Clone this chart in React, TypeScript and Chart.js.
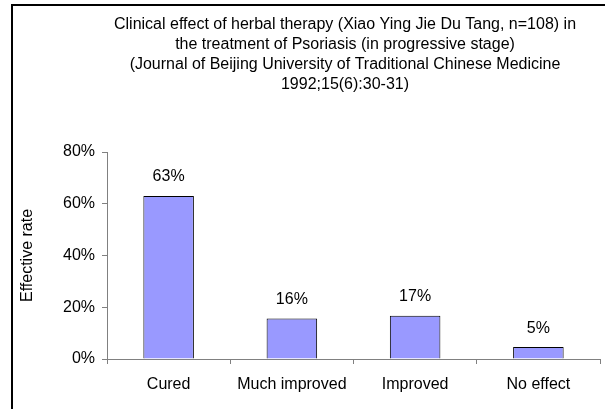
import React, { useEffect, useRef } from "react";
import { Chart, registerables } from "chart.js";

Chart.register(...registerables);

const categories = ["Cured", "Much improved", "Improved", "No effect"];
const effectiveRate = [63, 15.7, 16.7, 4.6];
const yTicks = [0, 20, 40, 60, 80];
const titleLines = [
  "Clinical effect of herbal therapy (Xiao Ying Jie Du Tang, n=108) in",
  "the treatment of Psoriasis (in progressive stage)",
  "(Journal of Beijing University of Traditional Chinese Medicine",
  "1992;15(6):30-31)",
];
const yTitle = "Effective rate";

const FONT = "'Liberation Sans', Arial, sans-serif";

const decorPlugin = {
  id: "decor",
  beforeDraw(chart: any) {
    const ctx = chart.ctx;
    ctx.save();
    ctx.fillStyle = "#ffffff";
    ctx.fillRect(0, 0, chart.width, chart.height);
    ctx.strokeStyle = "#000000";
    ctx.lineWidth = 2;
    ctx.beginPath();
    ctx.moveTo(12, chart.height + 2);
    ctx.lineTo(12, 5);
    ctx.lineTo(chart.width + 2, 5);
    ctx.stroke();
    ctx.fillStyle = "#000000";
    ctx.font = `16px ${FONT}`;
    ctx.textAlign = "center";
    ctx.textBaseline = "alphabetic";
    titleLines.forEach((line, i) => {
      ctx.fillText(line, 345, 29 + i * 20);
    });
    ctx.restore();
  },
  afterDatasetsDraw(chart: any) {
    const ctx = chart.ctx;
    const meta = chart.getDatasetMeta(0);
    ctx.save();
    ctx.fillStyle = "#000000";
    ctx.font = `16px ${FONT}`;
    ctx.textAlign = "center";
    ctx.textBaseline = "middle";
    meta.data.forEach((bar: any, i: number) => {
      ctx.fillText(Math.round(effectiveRate[i]) + "%", bar.x, bar.y - 19);
    });
    ctx.restore();
  },
};

export default function App() {
  const ref = useRef<HTMLCanvasElement>(null);
  useEffect(() => {
    if (!ref.current) return;
    const chart = new Chart(ref.current, {
      type: "bar",
      data: {
        labels: categories,
        datasets: [
          {
            data: effectiveRate,
            backgroundColor: "#9999ff",
            borderColor: "#000000",
            borderWidth: 1,
            categoryPercentage: 0.41,
            barPercentage: 1,
          },
        ],
      },
      options: {
        animation: false,
        responsive: false,
        devicePixelRatio: 1,
        layout: { padding: { top: 152, left: 12, right: 5, bottom: 9 } },
        plugins: {
          legend: { display: false },
          title: { display: false },
          tooltip: { enabled: false },
        },
        scales: {
          x: {
            afterFit: (scale: any) => {
              scale.height = 41;
            },
            grid: {
              offset: true,
              drawOnChartArea: false,
              drawTicks: true,
              tickLength: 5,
              color: "#808080",
            },
            border: { display: true, color: "#808080", width: 1 },
            ticks: {
              color: "#000000",
              font: { family: FONT, size: 16 },
              padding: 11,
              maxRotation: 0,
              autoSkip: false,
            },
          },
          y: {
            min: 0,
            max: 80,
            afterBuildTicks: (scale: any) => {
              scale.ticks = yTicks.map((v) => ({ value: v }));
            },
            afterFit: (scale: any) => {
              scale.width = 95;
            },
            grid: {
              drawOnChartArea: false,
              drawTicks: true,
              tickLength: 5,
              color: "#808080",
            },
            border: { display: true, color: "#808080", width: 1 },
            ticks: {
              color: "#000000",
              font: { family: FONT, size: 16 },
              padding: 7,
              callback: (v: any) => v + "%",
            },
            title: {
              display: true,
              text: yTitle,
              color: "#000000",
              font: { family: FONT, size: 16 },
              padding: { top: 6, bottom: 0 },
            },
          },
        },
      },
      plugins: [decorPlugin],
    });
    return () => chart.destroy();
  }, []);
  return (
    <div style={{ position: "fixed", left: 0, top: 0, width: 605, height: 409 }}>
      <canvas ref={ref} width={605} height={409} style={{ width: 605, height: 409, display: "block" }} />
    </div>
  );
}
